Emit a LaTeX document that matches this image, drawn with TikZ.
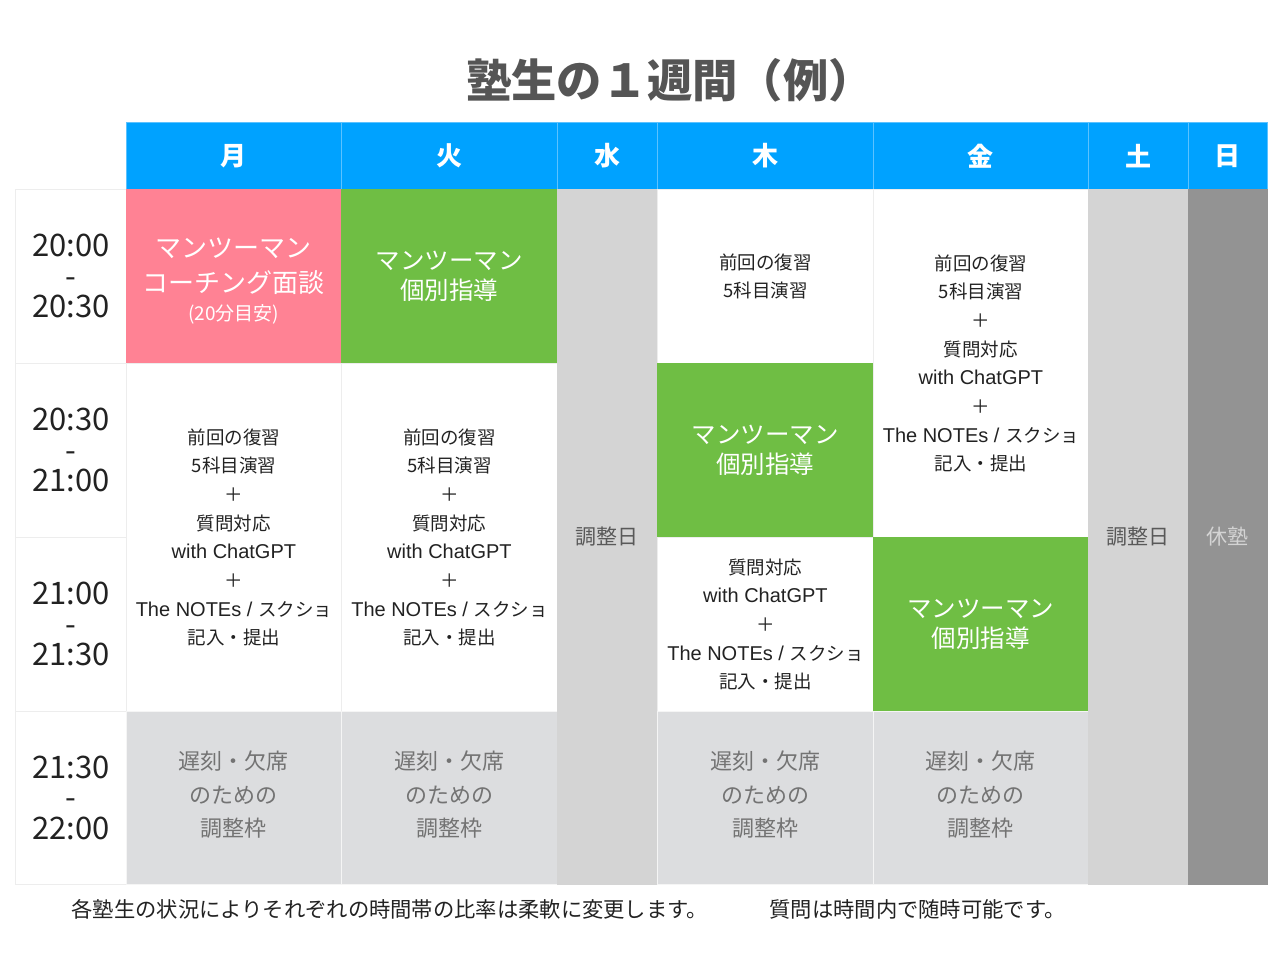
\documentclass[tikz,border=0pt]{standalone}
\usepackage{fontspec}
\setmainfont{Noto Sans CJK JP}
\newfontfamily\latfont{Liberation Sans}
\newcommand{\latw}[1]{{\fontsize{20}{28.7}\latfont #1}}
\definecolor{hdrblue}{HTML}{00A2FF}
\definecolor{hdrline}{HTML}{5CC2FF}
\definecolor{pinkc}{HTML}{FF8294}
\definecolor{greenc}{HTML}{6FBE44}
\definecolor{lgray}{HTML}{D4D4D4}
\definecolor{dgray}{HTML}{939393}
\definecolor{bgray}{HTML}{DCDDDF}
\definecolor{gridc}{HTML}{EDEDED}
\definecolor{titlec}{HTML}{555555}
\definecolor{txtc}{HTML}{222222}
\begin{document}
\begin{tikzpicture}[x=1pt,y=-1pt,
  cell/.style={draw=gridc, line width=0.8pt, anchor=north west, inner sep=0pt, align=center, text=txtc},
  hdr/.style={cell, fill=hdrblue, draw=hdrline, text=white, font=\fontsize{26}{30}\selectfont\bfseries},
  timec/.style={cell, fill=white, font=\fontsize{31}{30.5}\selectfont},
  small/.style={cell, fill=white, font=\fontsize{18.5}{28.7}\selectfont},
  greenbox/.style={cell, fill=greenc, draw=greenc, text=white, font=\fontsize{24.5}{30}\selectfont},
  adjbox/.style={cell, fill=bgray, draw=black!4, text=black!55, font=\fontsize{22}{33.5}\selectfont},
  daycol/.style={cell, fill=lgray, draw=lgray, text=black!65, font=\fontsize{21}{25}\selectfont},
  lbl/.style={inner sep=0pt, align=center}
]
\useasboundingbox (0,0) rectangle (1280,960);
\fill[white] (0,0) rectangle (1280,960);

% title
\node[text=titlec, font=\fontsize{45.3}{48}\selectfont\bfseries] (title) at (670,80) {塾生の１週間（例）};

% header
\node[hdr, minimum width=215pt, minimum height=67pt] (hMon) at (126,122) {月};
\node[hdr, minimum width=216pt, minimum height=67pt] (hTue) at (341,122) {火};
\node[hdr, minimum width=100pt, minimum height=67pt] (hWed) at (557,122) {水};
\node[hdr, minimum width=216pt, minimum height=67pt] (hThu) at (657,122) {木};
\node[hdr, minimum width=215pt, minimum height=67pt] (hFri) at (873,122) {金};
\node[hdr, minimum width=100pt, minimum height=67pt] (hSat) at (1088,122) {土};
\node[hdr, minimum width=79pt, minimum height=67pt] (hSun) at (1188,122) {日};

% time column
\node[timec, minimum width=111pt, minimum height=174pt] (t1) at (15,189) {20:00\\-\\20:30};
\node[timec, minimum width=111pt, minimum height=174pt] (t2) at (15,363) {20:30\\-\\21:00};
\node[timec, minimum width=111pt, minimum height=174pt] (t3) at (15,537) {21:00\\-\\21:30};
\node[timec, minimum width=111pt, minimum height=173pt] (t4) at (15,711) {21:30\\-\\22:00};

% Monday
\node[cell, fill=pinkc, draw=pinkc, minimum width=215pt, minimum height=174pt] (mon1) at (126,189) {};
\node[lbl, text=white, font=\fontsize{26}{35}\selectfont] (mon1t) at ([yshift=-5pt]mon1.center)
  {マンツーマン\\コーチング面談\\[-7pt]{\fontsize{19}{22}\selectfont (20分目安)}};
\node[small, minimum width=215pt, minimum height=348pt] (mon2) at (126,363)
  {前回の復習\\5科目演習\\＋\\質問対応\\\latw{with ChatGPT}\\＋\\\latw{The NOTEs / }スクショ\\記入・提出};
\node[adjbox, minimum width=215pt, minimum height=173pt] (mon3) at (126,711) {};
\node[lbl, text=black!55, font=\fontsize{22}{33.5}\selectfont] (mon3t) at ([yshift=3pt]mon3.center) {遅刻・欠席\\のための\\調整枠};

% Tuesday
\node[greenbox, minimum width=216pt, minimum height=174pt] (tue1) at (341,189) {マンツーマン\\個別指導};
\node[small, minimum width=216pt, minimum height=348pt] (tue2) at (341,363)
  {前回の復習\\5科目演習\\＋\\質問対応\\\latw{with ChatGPT}\\＋\\\latw{The NOTEs / }スクショ\\記入・提出};
\node[adjbox, minimum width=216pt, minimum height=173pt] (tue3) at (341,711) {};
\node[lbl, text=black!55, font=\fontsize{22}{33.5}\selectfont] (tue3t) at ([yshift=3pt]tue3.center) {遅刻・欠席\\のための\\調整枠};

% Wednesday
\node[daycol, minimum width=100pt, minimum height=695pt] (wed) at (557,189) {調整日};

% Thursday
\node[small, minimum width=216pt, minimum height=174pt] (thu1) at (657,189) {前回の復習\\5科目演習};
\node[greenbox, minimum width=216pt, minimum height=174pt] (thu2) at (657,363) {マンツーマン\\個別指導};
\node[small, minimum width=216pt, minimum height=174pt] (thu3) at (657,537)
  {質問対応\\\latw{with ChatGPT}\\＋\\\latw{The NOTEs / }スクショ\\記入・提出};
\node[adjbox, minimum width=216pt, minimum height=173pt] (thu4) at (657,711) {};
\node[lbl, text=black!55, font=\fontsize{22}{33.5}\selectfont] (thu4t) at ([yshift=3pt]thu4.center) {遅刻・欠席\\のための\\調整枠};

% Friday
\node[small, minimum width=215pt, minimum height=348pt] (fri1) at (873,189)
  {前回の復習\\5科目演習\\＋\\質問対応\\\latw{with ChatGPT}\\＋\\\latw{The NOTEs / }スクショ\\記入・提出};
\node[greenbox, minimum width=215pt, minimum height=174pt] (fri2) at (873,537) {マンツーマン\\個別指導};
\node[adjbox, minimum width=215pt, minimum height=173pt] (fri3) at (873,711) {};
\node[lbl, text=black!55, font=\fontsize{22}{33.5}\selectfont] (fri3t) at ([yshift=3pt]fri3.center) {遅刻・欠席\\のための\\調整枠};

% Saturday, Sunday
\node[daycol, minimum width=100pt, minimum height=695pt] (sat) at (1088,189) {調整日};
\node[daycol, fill=dgray, draw=dgray, text=black!17, minimum width=79pt, minimum height=695pt] (sun) at (1188,189) {休塾};

% footer
\node[anchor=west, text=txtc, font=\fontsize{21.3}{24}\selectfont] (note1) at (68,909) {各塾生の状況によりそれぞれの時間帯の比率は柔軟に変更します。};
\node[anchor=west, text=txtc, font=\fontsize{21.3}{24}\selectfont] (note2) at (766,909) {質問は時間内で随時可能です。};
\end{tikzpicture}
\end{document}
